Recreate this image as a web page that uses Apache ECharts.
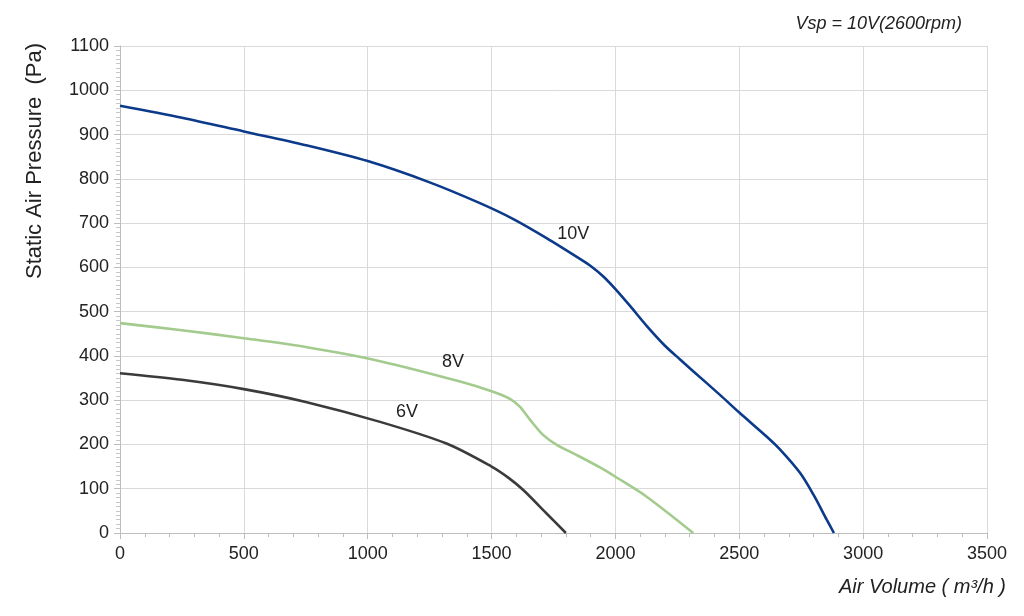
<!DOCTYPE html>
<html>
<head>
<meta charset="utf-8">
<script src="https://cdn.jsdelivr.net/npm/echarts@6/dist/echarts.min.js"></script>
<style>
  html, body { margin: 0; padding: 0; background: #fff; }
  #chart { width: 1024px; height: 616px; }
</style>
</head>
<body>
<div id="chart"></div>
<script>
// fan curves: [air volume m3/h, static pressure Pa]
var curve10V = [
  [0, 965], [250, 938], [500, 907], [750, 876], [1000, 840], [1250, 792],
  [1453, 745], [1588, 709], [1722, 666], [1857, 619], [1900, 603], [1950, 580],
  [2000, 551], [2059, 513], [2126, 468], [2200, 423], [2261, 392], [2315, 365],
  [2422, 312], [2500, 272], [2610, 218], [2664, 189], [2745, 136], [2800, 86],
  [2853, 30], [2882, 0]
]
var curve8V = [
  [0, 474], [250, 458], [500, 440], [750, 420], [1050, 388], [1373, 342],
  [1500, 320], [1574, 303], [1615, 285], [1655, 256], [1709, 221], [1763, 199],
  [1844, 176], [1938, 148], [2000, 127], [2126, 82], [2314, 0]
]
var curve6V = [
  [0, 361], [250, 346], [500, 325], [750, 296], [1050, 251], [1318, 202],
  [1500, 150], [1570, 124], [1628, 97], [1722, 44], [1800, 0]
]
var seriesNames = ['10V', '8V', '6V']
var seriesColors = ['#0b3a8a', '#a3cb8d', '#3b3b3b']
var labelCoords = [[1830, 675], [1344, 386], [1159, 273]]

var chart = echarts.init(document.getElementById('chart'))

var curves = [curve10V, curve8V, curve6V]
var series = curves.map(function (data, i) {
  return {
    name: seriesNames[i],
    type: 'line',
    data: data,
    smooth: 0.3,
    symbol: 'none',
    lineStyle: { color: seriesColors[i], width: 2.6 },
    markPoint: {
      symbol: 'circle',
      symbolSize: 1,
      itemStyle: { color: 'rgba(0,0,0,0)' },
      label: {
        show: true,
        position: 'inside',
        formatter: seriesNames[i],
        color: '#222',
        fontSize: 18,
        fontFamily: 'Liberation Sans'
      },
      data: [{ coord: labelCoords[i] }]
    }
  }
})

function plain(v) { return String(v) }

var option = {
  animation: false,
  grid: { left: 120, right: 37, top: 46, bottom: 83 },
  xAxis: {
    type: 'value',
    min: 0,
    max: 3500,
    interval: 500,
    axisLine: { lineStyle: { color: '#bdbdbd', width: 1 } },
    axisTick: { show: true, length: 6, lineStyle: { color: '#bdbdbd' } },
    minorTick: { show: true, splitNumber: 5, length: 4, lineStyle: { color: '#bdbdbd' } },
    splitLine: { show: true, lineStyle: { color: '#d9d9d9' } },
    axisLabel: { color: '#222', fontSize: 18, fontFamily: 'Liberation Sans', margin: 12, formatter: plain }
  },
  yAxis: {
    type: 'value',
    min: 0,
    max: 1100,
    interval: 100,
    axisLine: { show: true, lineStyle: { color: '#bdbdbd', width: 1 } },
    axisTick: { show: true, length: 6, lineStyle: { color: '#bdbdbd' } },
    minorTick: { show: true, splitNumber: 10, length: 4, lineStyle: { color: '#c8c8c8' } },
    splitLine: { show: true, lineStyle: { color: '#d9d9d9' } },
    axisLabel: { color: '#222', fontSize: 18, fontFamily: 'Liberation Sans', margin: 11, formatter: plain }
  },
  graphic: [
    {
      type: 'text',
      x: 35,
      y: 161,
      rotation: Math.PI / 2,
      style: {
        text: 'Static Air Pressure  (Pa)',
        fill: '#222',
        font: '22px "Liberation Sans"',
        textAlign: 'center',
        textVerticalAlign: 'middle'
      }
    },
    {
      type: 'text',
      x: 1006,
      y: 587,
      style: {
        text: 'Air Volume ( m³/h )',
        fill: '#222',
        font: 'italic 20px "Liberation Sans"',
        textAlign: 'right',
        textVerticalAlign: 'middle'
      }
    },
    {
      type: 'text',
      x: 962,
      y: 24,
      style: {
        text: 'Vsp = 10V(2600rpm)',
        fill: '#222',
        font: 'italic 18px "Liberation Sans"',
        textAlign: 'right',
        textVerticalAlign: 'middle'
      }
    }
  ],
  series: series
}

chart.setOption(option)
</script>
</body>
</html>
